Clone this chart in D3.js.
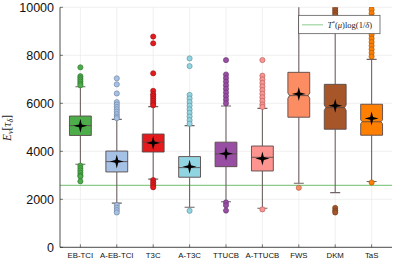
<!DOCTYPE html>
<html><head><meta charset="utf-8">
<script src="https://cdn.jsdelivr.net/npm/d3@7"></script>
<style>body{margin:0;background:#fff}svg{display:block}</style>
</head><body>
<svg id="c" width="399" height="266"></svg>
<script>
const categories = ["EB-TCI","A-EB-TCI","T3C","A-T3C","TTUCB","A-TTUCB","FWS","DKM","TaS"];
const colors = ["#4cad4a","#a6c1e6","#e41a1c","#92d5e2","#984ea3","#fd9490","#fc8d62","#a65628","#ff7f00"];
const q1 =      [4660,3140,3970,2920,3360,3180,5420,4920,4670];
const median =  [5070,3570,4380,3320,3890,3750,6320,5820,5230];
const q3 =      [5470,4010,4720,3780,4380,4220,7290,6790,5960];
const means =   [5060,3580,4350,3360,3900,3700,6390,5900,5370];
const whiskerLo=[3460,1840,2840,1670,1900,1630,2670,2280,2740];
const whiskerHi=[6690,5330,5860,5070,5890,5790,10500,9600,7830];
const notchHalf=[0,0,0,0,0,0,110,110,80];
const outliers = [
  [7500,7130,7050,6980,6900,6820,6750,3400,3300,3200,3100,3000,2950,2750],
  [7040,6790,6410,6050,5950,5850,5750,5650,5550,5450,5380,1760,1650,1550,1450],
  [8780,8500,7250,6520,6380,6300,6200,6100,6000,5920,2800,2700,2600,2500],
  [7870,7550,6350,6200,6050,5900,5750,5600,5450,5300,5150,1520],
  [7800,7200,7050,6900,6750,6600,6450,6300,6150,6000,1870,1750,1530],
  [7800,7150,7000,6850,6700,6550,6400,6250,6100,5950,5850,1580],
  [2480],
  [9980,9880,9780,9680,1640,1530,1450],
  [10050,9900,9750,9600,9450,9300,9150,9000,8850,8700,8550,8400,8250,8100,7950,2700]
];
const yTicks = [0,2000,4000,6000,8000,10000];
const refValue = 2583;

const svg = d3.select("#c");
const L=60, R=392, T=7.3, B=247.3;
const x = d3.scalePoint().domain(categories).range([L,R]).padding(0.56);
const y = d3.scaleLinear().domain([0,10000]).range([B,T]);
const step = x.step();
const hw = step*0.3;

svg.append("defs").append("clipPath").attr("id","clip")
  .append("rect").attr("x",L).attr("y",T).attr("width",R-L).attr("height",B-T);

// grid
const g = svg.append("g");
g.selectAll(".hg").data(yTicks).join("line")
  .attr("x1",L).attr("x2",R).attr("y1",d=>y(d)).attr("y2",d=>y(d))
  .attr("stroke","#e6e6e6").attr("stroke-width",0.6);
g.selectAll(".vg").data(categories).join("line")
  .attr("x1",d=>x(d)).attr("x2",d=>x(d)).attr("y1",T).attr("y2",B)
  .attr("stroke","#e6e6e6").attr("stroke-width",0.6);

const plot = svg.append("g").attr("clip-path","url(#clip)");

// reference line
plot.append("line").attr("x1",L).attr("x2",R+10).attr("y1",y(refValue)).attr("y2",y(refValue))
  .attr("stroke","#6dbf6d").attr("stroke-width",1);

const darker = c => d3.color(c).darker(1.2).formatHex();

categories.forEach((cat,i)=>{
  const cx = x(cat);
  const gg = plot.append("g");
  gg.append("line").attr("x1",cx).attr("x2",cx).attr("y1",y(q3[i])).attr("y2",y(whiskerHi[i]))
    .attr("stroke","#6f6363").attr("stroke-width",1.1);
  gg.append("line").attr("x1",cx).attr("x2",cx).attr("y1",y(q1[i])).attr("y2",y(whiskerLo[i]))
    .attr("stroke","#6f6363").attr("stroke-width",1.1);
  [whiskerHi[i],whiskerLo[i]].forEach(v=>{
    gg.append("line").attr("x1",cx-5).attr("x2",cx+5).attr("y1",y(v)).attr("y2",y(v))
      .attr("stroke","#6f6363").attr("stroke-width",1.1);
  });
  const n = notchHalf[i];
  const d = n>0 ? 1.6 : 0;
  let pts;
  if(n>0){
    pts = [[cx-hw,y(q3[i])],[cx+hw,y(q3[i])],[cx+hw,y(median[i]+n)],[cx+hw-d,y(median[i])],
           [cx+hw,y(median[i]-n)],[cx+hw,y(q1[i])],[cx-hw,y(q1[i])],[cx-hw,y(median[i]-n)],
           [cx-hw+d,y(median[i])],[cx-hw,y(median[i]+n)]];
  } else {
    pts = [[cx-hw,y(q3[i])],[cx+hw,y(q3[i])],[cx+hw,y(q1[i])],[cx-hw,y(q1[i])]];
  }
  gg.append("path").attr("d",d3.line()(pts)+"Z")
    .attr("fill",colors[i]).attr("stroke","#5a4a4a").attr("stroke-width",0.9);
  gg.append("line").attr("x1",cx-hw+d).attr("x2",cx+hw-d).attr("y1",y(median[i])).attr("y2",y(median[i]))
    .attr("stroke","#5a4a4a").attr("stroke-width",0.9);
  gg.selectAll("circle").data(outliers[i]).join("circle")
    .attr("cx",cx).attr("cy",v=>y(v)).attr("r",2.6)
    .attr("fill",colors[i]).attr("stroke",darker(colors[i])).attr("stroke-width",0.6);
  const my = y(means[i]), s=7, k=1.4;
  const star = [[cx,my-s],[cx+k,my-k],[cx+s,my],[cx+k,my+k],[cx,my+s],[cx-k,my+k],[cx-s,my],[cx-k,my-k]];
  gg.append("path").attr("d",d3.line()(star)+"Z").attr("fill","#000");
});

// axes
svg.append("line").attr("x1",L).attr("x2",L).attr("y1",T).attr("y2",B).attr("stroke","#222").attr("stroke-width",0.8);
svg.append("line").attr("x1",L).attr("x2",R).attr("y1",B).attr("y2",B).attr("stroke","#222").attr("stroke-width",0.8);
svg.selectAll(".yt").data(yTicks).join("line")
  .attr("x1",L).attr("x2",L+3).attr("y1",v=>y(v)).attr("y2",v=>y(v)).attr("stroke","#222").attr("stroke-width",0.6);
svg.selectAll(".xt").data(categories).join("line")
  .attr("x1",c=>x(c)).attr("x2",c=>x(c)).attr("y1",B).attr("y2",B-3).attr("stroke","#222").attr("stroke-width",0.6);
svg.selectAll(".ytl").data(yTicks).join("text")
  .attr("x",L-6).attr("y",v=>y(v)).attr("dy","0.36em").attr("text-anchor","end")
  .attr("font-family","Liberation Sans, Arial, sans-serif").attr("font-size",12.5).attr("fill","#111")
  .text(v=>v);
svg.selectAll(".xtl").data(categories).join("text")
  .attr("x",c=>x(c)).attr("y",258).attr("text-anchor","middle")
  .attr("font-family","Liberation Sans, Arial, sans-serif").attr("font-size",7.8).attr("fill","#111")
  .text(c=>c);

// y label
const yl = svg.append("text").attr("transform","translate(11,128) rotate(-90)")
  .attr("text-anchor","middle").attr("font-family","Liberation Serif, serif").attr("font-size",11.5).attr("fill","#222");
yl.append("tspan").attr("font-style","italic").text("E");
yl.append("tspan").attr("font-style","italic").attr("font-size",8).attr("dy",2).text("ν");
yl.append("tspan").attr("dy",-2).text("[");
yl.append("tspan").attr("font-style","italic").text("τ");
yl.append("tspan").attr("font-style","italic").attr("font-size",8).attr("dy",2).text("δ");
yl.append("tspan").attr("dy",-2).text("]");

// legend
const lg = svg.append("g");
lg.append("rect").attr("x",298.7).attr("y",15.3).attr("width",81.3).attr("height",18.4)
  .attr("fill","#fff").attr("stroke","#444").attr("stroke-width",0.7);
lg.append("line").attr("x1",302).attr("x2",323).attr("y1",24.8).attr("y2",24.8)
  .attr("stroke","#9fd49f").attr("stroke-width",1.2);
const lt = lg.append("text").attr("x",327.5).attr("y",27.5)
  .attr("font-family","Liberation Serif, serif").attr("font-size",8.5).attr("fill","#222");
lt.append("tspan").attr("font-style","italic").text("T");
lt.append("tspan").attr("font-size",5.5).attr("dy",-3).text("*");
lt.append("tspan").attr("dy",3).text("(");
lt.append("tspan").attr("font-style","italic").text("μ");
lt.append("tspan").text(")log(1/");
lt.append("tspan").attr("font-style","italic").text("δ");
lt.append("tspan").text(")");
</script>
</body></html>
